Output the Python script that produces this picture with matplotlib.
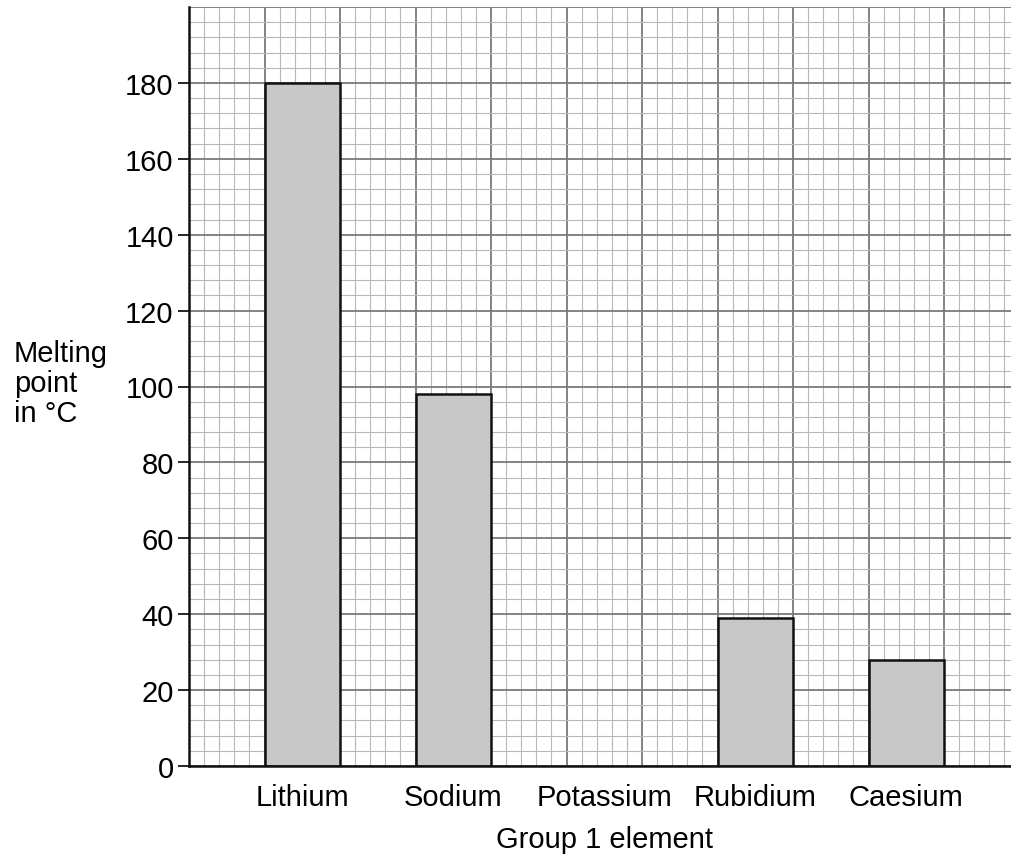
import numpy as np
import matplotlib
matplotlib.use("Agg")
import matplotlib.pyplot as plt

plt.rcParams['font.family'] = ['Liberation Sans', 'DejaVu Sans']

elements = ["Lithium", "Sodium", "Potassium", "Rubidium", "Caesium"]
melting_points = [180, 98, np.nan, 39, 28]
y_ticks = [0, 20, 40, 60, 80, 100, 120, 140, 160, 180]

fig = plt.figure(figsize=(10.12, 8.62), dpi=100)
ax = fig.add_axes([189/1012, 1 - 767/862, 1 - 189/1012, (767 - 8)/862])

xmax = 10.9
ax.set_xlim(0, xmax)
ax.set_ylim(0, 200)

# graph-paper grid
for xv in np.arange(0, xmax + 1e-9, 0.2):
    major = abs(xv - round(xv)) < 1e-6
    ax.axvline(xv, color='#7a7a7a' if major else '#b8b8b8',
               lw=1.3 if major else 0.8, zorder=0)
for yv in np.arange(0, 200 + 1e-9, 4):
    major = abs(yv / 20 - round(yv / 20)) < 1e-6
    ax.axhline(yv, color='#7a7a7a' if major else '#b8b8b8',
               lw=1.3 if major else 0.8, zorder=0)

idx = np.arange(len(elements))
centers = 2 * idx + 1.5
vals = np.array(melting_points, dtype=float)
mask = ~np.isnan(vals)
ax.bar(centers[mask], vals[mask], width=1.0, color='#c8c8c8',
       edgecolor='#111111', linewidth=1.8, zorder=3)

ax.set_xticks(centers)
ax.set_xticklabels(elements, fontsize=21)
ax.tick_params(axis='x', length=0, pad=12)
ax.set_yticks(y_ticks)
ax.set_yticklabels([str(v) for v in y_ticks], fontsize=21)
ax.tick_params(axis='y', length=8, width=1.2, pad=3, direction='out')

for s in ['top', 'right']:
    ax.spines[s].set_visible(False)
for s in ['left', 'bottom']:
    ax.spines[s].set_linewidth(1.8)
    ax.spines[s].set_color('#111111')
    ax.spines[s].set_zorder(4)

fig.text(14/1012, 1 - 384/862, "Melting\npoint\nin °C", fontsize=21,
         ha='left', va='center', linespacing=1.1)
fig.text(605/1012, 1 - 840/862, "Group 1 element",
         fontsize=21, ha='center', va='center')

fig.savefig("out.png", dpi=100)
